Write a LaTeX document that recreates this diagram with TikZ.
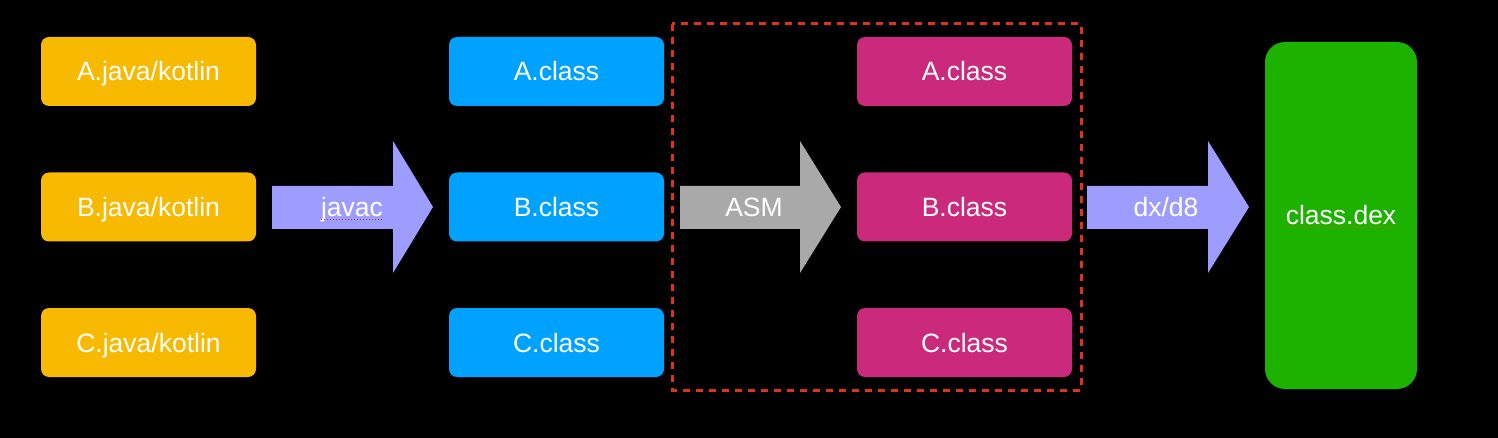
\documentclass[tikz,border=0pt]{standalone}
\usepackage{fontspec}
\setmainfont{Liberation Sans}
\definecolor{cOrange}{HTML}{F8BA00}
\definecolor{cBlue}{HTML}{00A2FF}
\definecolor{cMag}{HTML}{CB297B}
\definecolor{cGreen}{HTML}{1DB100}
\definecolor{cPurple}{HTML}{9D9DFF}
\definecolor{cGray}{HTML}{A9A9A9}
\definecolor{cRed}{HTML}{E0301E}
\tikzset{
  box/.style={rounded corners=8pt, inner sep=0pt, text=white, font=\fontsize{26.5}{30}\selectfont,
    text height=19pt, text depth=0pt, minimum width=215pt, minimum height=69pt},
  lbl/.style={text=white, font=\fontsize{26.5}{30}\selectfont, inner sep=0pt,
    text height=19pt, text depth=0pt},
  squig/.style={cRed, line width=1pt, dash pattern=on 1.5pt off 1.5pt}
}
\begin{document}
\begin{tikzpicture}[x=1pt,y=-1pt]
\fill[black] (0,0) rectangle (1498,438);
\useasboundingbox (0,0) rectangle (1498,438);
% source files
\foreach \n/\y in {A/71.5,B/207,C/342.5}{
  \node[box, fill=cOrange] (src\n) at (148.5,\y) {\n.java/kotlin};
  \node[box, fill=cBlue] (cls\n) at (556.5,\y) {\n.class};
  \node[box, fill=cMag] (asm\n) at (964.5,\y) {\n.class};
}
% dashed frame
\draw[cRed, line width=3pt, dash pattern=on 7pt off 6pt] (672,24) rectangle (1081,390);
% javac arrow
\fill[cPurple] (272,186) -- (393,186) -- (393,141) -- (433,207) -- (393,273) -- (393,229) -- (272,229) -- cycle;
\node[lbl] (javac) at (352,207.5) {javac};
\draw[squig] ([yshift=-2pt]javac.south west) -- ([yshift=-2pt]javac.south east);
% ASM arrow
\fill[cGray] (680,186) -- (800,186) -- (800,141) -- (841,207) -- (800,273) -- (800,229) -- (680,229) -- cycle;
\node[lbl] (asmlbl) at (754,207.5) {ASM};
% dx/d8 arrow
\fill[cPurple] (1087,186) -- (1208,186) -- (1208,141) -- (1249,207) -- (1208,273) -- (1208,229) -- (1087,229) -- cycle;
\node[lbl] (dx) at (1166,207.5) {dx/d8};
% dex box
\node[rounded corners=20pt, fill=cGreen, minimum width=152pt, minimum height=347pt, inner sep=0pt] (dexbox) at (1341,215.5) {};
\node[lbl] (dex) at (1341,215) {class.dex};
\draw[squig, cRed!60!orange] ([yshift=-3pt]dex.south west) -- ([yshift=-3pt]dex.south east);
\end{tikzpicture}
\end{document}
